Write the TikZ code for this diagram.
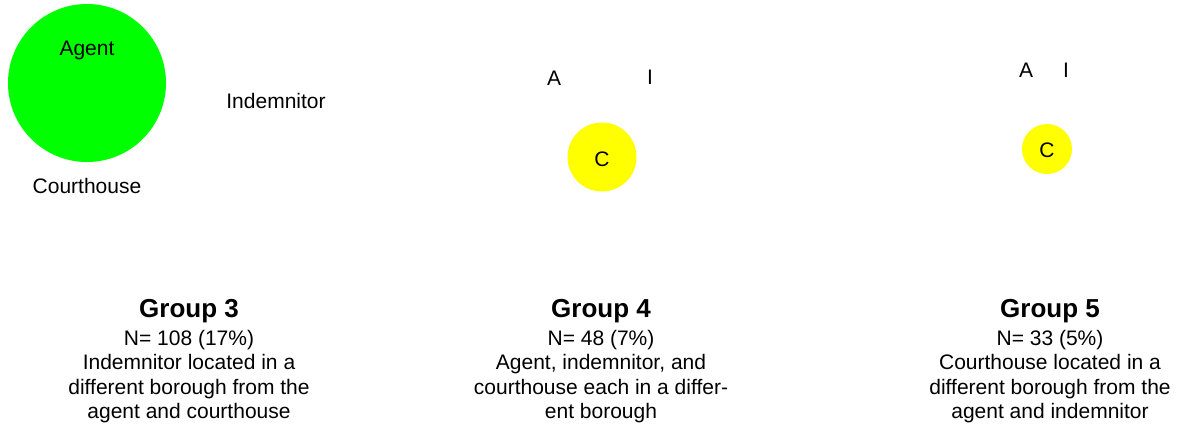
\documentclass[tikz,border=0pt]{standalone}
\usepackage{fontspec}
\setmainfont{Liberation Sans}
\begin{document}
\begin{tikzpicture}[x=1pt,y=-1pt,
  lbl/.style={inner sep=0pt, font=\fontsize{21}{24}\selectfont},
  blob/.style={circle, draw=none, inner sep=0pt},
  title/.style={inner sep=0pt, font=\fontsize{26}{30}\selectfont\bfseries},
  desc/.style={inner sep=0pt, align=center, anchor=north, font=\fontsize{21}{24.5}\selectfont}]
\useasboundingbox (0,0) rectangle (1178,426);
% Group 3: agent and courthouse together, indemnitor apart
\node[blob, fill={rgb,255:red,0;green,255;blue,0}, minimum size=158pt] (g3c) at (87,83) {};
\node[lbl] (g3a) at (87,50) {Agent};
\node[lbl] (g3i) at (276,101) {Indemnitor};
\node[lbl] (g3h) at (87,186) {Courthouse};
% Group 4: all three apart
\node[blob, fill={rgb,255:red,255;green,255;blue,0}, minimum size=69pt] (g4c) at (602,157) {};
\node[lbl] (g4a) at (554,78) {A};
\node[lbl] (g4i) at (650,77) {I};
\node[lbl] (g4h) at (602,159) {C};
% Group 5: courthouse apart
\node[blob, fill={rgb,255:red,255;green,255;blue,0}, minimum size=50pt] (g5c) at (1047,149) {};
\node[lbl] (g5a) at (1026,70) {A};
\node[lbl] (g5i) at (1066,70) {I};
\node[lbl] (g5h) at (1047,150) {C};
% Captions
\node[title] (t3) at (189,311) {Group 3};
\node[desc] (d3) at (189,330) {N= 108 (17\%)\\Indemnitor located in a\\different borough from the\\agent and courthouse};
\node[title] (t4) at (601,311) {Group 4};
\node[desc] (d4) at (601,330) {N= 48 (7\%)\\Agent, indemnitor, and\\courthouse each in a differ-\\ent borough};
\node[title] (t5) at (1050,311) {Group 5};
\node[desc] (d5) at (1050,330) {N= 33 (5\%)\\Courthouse located in a\\different borough from the\\agent and indemnitor};
\end{tikzpicture}
\end{document}
